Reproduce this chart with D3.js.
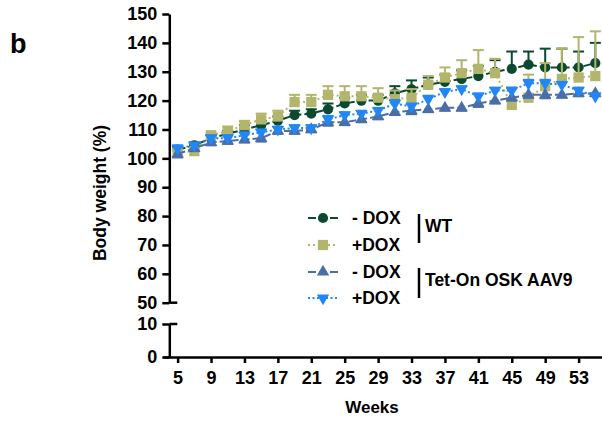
<!doctype html>
<html lang="en">
	<head>
		<meta charset="UTF-8">
		<title>Body weight</title>
		<style>
		body { margin: 0; background: #fff; }
		text { font-family: Arial, "Liberation Sans", sans-serif; font-weight: bold; }
		.axis path, .axis line { fill: none; stroke: #000; stroke-width: 2.5px; }
		.axis text { font-size: 18px; font-weight: bold; font-family: Arial, "Liberation Sans", sans-serif; fill: #000; }
		</style>
	</head>
	<body>
		<script src="https://cdn.jsdelivr.net/npm/d3@7"></script>
		<script>
			var weeks = [5, 7, 9, 11, 13, 15, 17, 19, 21, 23, 25, 27, 29, 31, 33, 35, 37, 39, 41, 43, 45, 47, 49, 51, 53, 55];
			var weekTicks = [5, 9, 13, 17, 21, 25, 29, 33, 37, 41, 45, 49, 53];
			var topTicks = [50, 60, 70, 80, 90, 100, 110, 120, 130, 140, 150];
			var bottomTicks = [0, 10];

			var wtMinus = [103, 104.5, 107, 108.5, 110, 111.5, 113, 115, 115.5, 117, 119, 120, 120, 122.5, 124, 125.5, 126.5, 127.5, 128.5, 130, 131, 132.5, 131.5, 131.5, 131.5, 133];
			var wtMinusErr = [1, 1, 1, 1, 1.5, 1.5, 1.5, 1.5, 1.5, 2, 2, 2, 2, 2.5, 3, 2.5, 2.5, 3, 3.5, 4, 6, 4.5, 6.5, 6.5, 5.5, 7];
			var wtPlus = [102, 102.5, 108, 109.5, 111.5, 113.5, 114.5, 119.5, 119.5, 122, 121.5, 121.5, 121, 120.5, 121, 125.5, 128, 129.5, 131, 129.5, 118.5, 121, 125, 127.5, 128, 128.5];
			var wtPlusErr = [1, 1, 1, 1.5, 1.5, 2, 2, 2.5, 2.5, 3, 3.5, 3.5, 3.3, 3, 3, 3, 3.5, 4.5, 6.5, 5, 6, 8, 8, 10.5, 14, 15.5];
			var tetMinus = [101.5, 103.5, 105.5, 106, 106.5, 107, 109.5, 109.5, 110, 112.5, 112.5, 113.5, 114.5, 116, 116.5, 117, 117.5, 117.5, 119, 120, 121, 122, 122, 122, 122.5, 122.5];
			var tetMinusErr = [1.2, 1, 1, 1, 1, 1.2, 1, 1, 1, 1.2, 1, 1, 1, 1, 1.2, 1, 1, 1, 1.2, 1, 1, 1, 1.2, 1, 1, 1];
			var tetPlus = [103.5, 104.5, 107, 107, 108, 109, 110, 110.5, 110.5, 113.5, 115, 115.5, 116.5, 119, 118, 120.5, 123, 124, 121.5, 123.5, 123.5, 126, 126, 125.5, 123.5, 121.5];
			var tetPlusErr = [1, 1, 1, 1, 1, 1, 1, 1, 1, 1.2, 1, 1, 1, 1.2, 1, 1.2, 1, 1, 1, 1, 1, 1.2, 1.2, 1, 1, 1];

			var series = [
				{ label: "- DOX", values: wtMinus, err: wtMinusErr, dir: 1, color: "#0b4a31", dash: "8,3", shape: "circle" },
				{ label: "+DOX", values: wtPlus, err: wtPlusErr, dir: 1, color: "#b2b56c", dash: "2,3", shape: "square" },
				{ label: "- DOX", values: tetMinus, err: tetMinusErr, dir: -1, color: "#4a6ea8", dash: "8,3", shape: "up" },
				{ label: "+DOX", values: tetPlus, err: tetPlusErr, dir: 1, color: "#2287f4", dash: "2,2.5", shape: "down" }
			];

			var width = 602,
				height = 421,
				axisX = 169.3,
				baseY = 357;

			var x = d3.scaleLinear().domain([3.25, 55.8]).range([163, 602]);
			var yTop = d3.scaleLinear().domain([50, 150]).range([302.7, 14]);
			var yBot = d3.scaleLinear().domain([0, 10]).range([baseY, 324]);

			var svg = d3.select("body").append("svg")
				.attr("width", width)
				.attr("height", height);

			function symbolPath(shape) {
				if (shape == "circle") return d3.symbol().type(d3.symbolCircle).size(82)();
				if (shape == "square") return d3.symbol().type(d3.symbolSquare).size(105)();
				return d3.symbol().type(d3.symbolTriangle).size(66)();
			}
			function symbolRot(shape) {
				return shape == "down" ? " rotate(180)" : "";
			}

			// axes
			svg.append("g")
				.attr("class", "axis")
				.attr("transform", "translate(" + axisX + ",0)")
				.call(d3.axisLeft(yTop).tickValues(topTicks).tickSize(7).tickSizeOuter(0).tickPadding(5));

			svg.append("g")
				.attr("class", "axis")
				.attr("transform", "translate(" + axisX + ",0)")
				.call(d3.axisLeft(yBot).tickValues(bottomTicks).tickSize(7).tickSizeOuter(0).tickPadding(5));

			// break caps
			svg.append("line")
				.attr("x1", axisX).attr("x2", axisX + 8)
				.attr("y1", yTop(50)).attr("y2", yTop(50))
				.attr("stroke", "#000").attr("stroke-width", 2.5);
			svg.append("line")
				.attr("x1", axisX).attr("x2", axisX + 8)
				.attr("y1", yBot(10)).attr("y2", yBot(10))
				.attr("stroke", "#000").attr("stroke-width", 2.5);

			svg.append("g")
				.attr("class", "axis")
				.attr("transform", "translate(0," + baseY + ")")
				.call(d3.axisBottom(x).tickValues(weekTicks).tickSize(6).tickSizeOuter(0).tickPadding(8));

			svg.append("text")
				.attr("x", 372)
				.attr("y", 413)
				.attr("text-anchor", "middle")
				.attr("font-size", 17)
				.text("Weeks");

			svg.append("text")
				.attr("transform", "translate(106,193) rotate(-90)")
				.attr("text-anchor", "middle")
				.attr("font-size", 17.5)
				.text("Body weight (%)");

			svg.append("text")
				.attr("x", 10)
				.attr("y", 53)
				.attr("font-size", 27)
				.text("b");

			// series
			var groups = svg.selectAll("g.series")
				.data(series)
				.enter()
				.append("g")
				.attr("class", "series");

			groups.append("path")
				.attr("fill", "none")
				.attr("stroke", function(d){ return d.color; })
				.attr("stroke-width", 2)
				.attr("stroke-dasharray", function(d){ return d.dash; })
				.attr("d", function(d){
					return d3.line()
						.x(function(v, i){ return x(weeks[i]); })
						.y(function(v){ return yTop(v); })(d.values);
				});

			groups.each(function(s){
				var g = d3.select(this);
				var pts = s.values.map(function(v, i){ return { w: weeks[i], v: v, e: s.err[i] }; });

				g.selectAll("line.bar")
					.data(pts)
					.enter()
					.append("line")
					.attr("class", "bar")
					.attr("x1", function(d){ return x(d.w); })
					.attr("x2", function(d){ return x(d.w); })
					.attr("y1", function(d){ return yTop(d.v); })
					.attr("y2", function(d){ return yTop(d.v + s.dir * d.e); })
					.attr("stroke", s.color)
					.attr("stroke-width", 2);

				g.selectAll("line.cap")
					.data(pts)
					.enter()
					.append("line")
					.attr("class", "cap")
					.attr("x1", function(d){ return x(d.w) - 5.5; })
					.attr("x2", function(d){ return x(d.w) + 5.5; })
					.attr("y1", function(d){ return yTop(d.v + s.dir * d.e); })
					.attr("y2", function(d){ return yTop(d.v + s.dir * d.e); })
					.attr("stroke", s.color)
					.attr("stroke-width", 2);

				g.selectAll("path.mark")
					.data(pts)
					.enter()
					.append("path")
					.attr("class", "mark")
					.attr("d", symbolPath(s.shape))
					.attr("transform", function(d){ return "translate(" + x(d.w) + "," + yTop(d.v) + ")" + symbolRot(s.shape); })
					.attr("fill", s.color);
			});

			// legend
			var legendY = [218, 245, 272, 298];

			var legend = svg.selectAll("g.legend")
				.data(series)
				.enter()
				.append("g")
				.attr("class", "legend")
				.attr("transform", function(d, i){ return "translate(0," + legendY[i] + ")"; });

			legend.append("line")
				.attr("x1", 308).attr("x2", 338)
				.attr("y1", 0).attr("y2", 0)
				.attr("stroke", function(d){ return d.color; })
				.attr("stroke-width", 2)
				.attr("stroke-dasharray", function(d){ return d.dash; });

			legend.append("path")
				.attr("d", function(d){ return symbolPath(d.shape); })
				.attr("transform", function(d){ return "translate(323,0)" + symbolRot(d.shape); })
				.attr("fill", function(d){ return d.color; });

			legend.append("text")
				.attr("x", 352)
				.attr("dy", "0.36em")
				.attr("font-size", 17.5)
				.text(function(d){ return d.label; });

			var brackets = [
				{ label: "WT", y1: 214, y2: 243 },
				{ label: "Tet-On OSK AAV9", y1: 268, y2: 298 }
			];

			svg.selectAll("line.bracket")
				.data(brackets)
				.enter()
				.append("line")
				.attr("class", "bracket")
				.attr("x1", 419).attr("x2", 419)
				.attr("y1", function(d){ return d.y1; })
				.attr("y2", function(d){ return d.y2; })
				.attr("stroke", "#000")
				.attr("stroke-width", 2.5);

			svg.selectAll("text.bracket")
				.data(brackets)
				.enter()
				.append("text")
				.attr("class", "bracket")
				.attr("x", 425)
				.attr("y", function(d, i){ return i == 0 ? 226 : 280; })
				.attr("dy", "0.36em")
				.attr("font-size", 17.5)
				.text(function(d){ return d.label; });
		</script>
	</body>
</html>
